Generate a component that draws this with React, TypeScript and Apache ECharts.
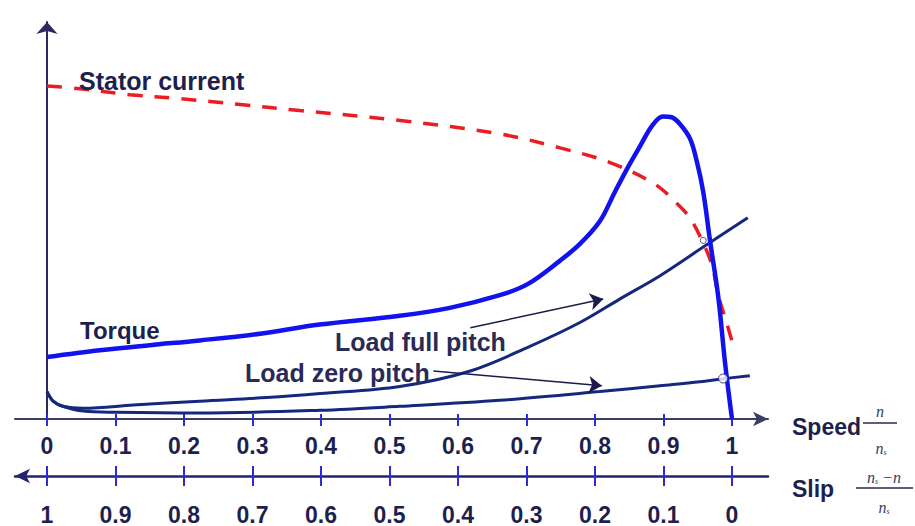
import React, { useEffect, useRef } from 'react';
import * as echarts from 'echarts';

// ---- axis ticks / labels ----
const speedTicks = [0, 0.1, 0.2, 0.3, 0.4, 0.5, 0.6, 0.7, 0.8, 0.9, 1];
const speedLabels = ['0', '0.1', '0.2', '0.3', '0.4', '0.5', '0.6', '0.7', '0.8', '0.9', '1'];
const slipLabels = ['1', '0.9', '0.8', '0.7', '0.6', '0.5', '0.4', '0.3', '0.2', '0.1', '0'];

// ---- curves (speed n/ns, relative value) ----
const statorSpeed = [0, 0.048, 0.121, 0.194, 0.282, 0.369, 0.515, 0.661, 0.749, 0.822, 0.887, 0.92, 0.939, 0.958, 0.971, 0.98, 0.993, 1.004];
const statorValue = [83.9, 83.2, 81.7, 80.7, 79.2, 77.7, 75.2, 71.8, 68.3, 64.6, 59.2, 54.2, 50.5, 44.3, 38.6, 31.2, 23.8, 17.1];

const torqueSpeed = [0, 0.077, 0.15, 0.223, 0.311, 0.398, 0.515, 0.588, 0.661, 0.701, 0.749, 0.778, 0.807, 0.829, 0.848, 0.866, 0.883, 0.899, 0.912, 0.924, 0.939, 0.949, 0.958, 0.968, 0.98, 0.99, 1];
const torqueValue = [15.6, 17.3, 18.6, 19.8, 21.5, 23.8, 26.0, 28.0, 31.2, 33.9, 39.9, 44.1, 49.8, 57.2, 63.4, 68.8, 73.8, 76.2, 76.0, 74.3, 70.5, 64.6, 57.2, 44.8, 30.7, 13.9, 0];

const fullPitchSpeed = [0, 0.009, 0.023, 0.053, 0.126, 0.223, 0.321, 0.399, 0.515, 0.618, 0.705, 0.778, 0.836, 0.895, 0.958, 1.023];
const fullPitchValue = [6.9, 4.5, 3.2, 2.7, 3.5, 4.5, 5.4, 6.4, 8.2, 12.1, 18.3, 24.3, 30.2, 36.1, 43.3, 50.7];

const zeroPitchSpeed = [0, 0.009, 0.023, 0.053, 0.102, 0.223, 0.399, 0.515, 0.661, 0.807, 0.895, 0.953, 0.985, 1.026];
const zeroPitchValue = [6.9, 4.5, 3.2, 2.0, 1.7, 1.5, 2.2, 3.2, 4.7, 6.9, 8.4, 9.4, 10.1, 10.9];

const operatingSpeed = [0.958, 0.987];
const operatingValue = [45.0, 10.2];
const operatingSize = [6, 9];

// annotation arrows [start, end] in (speed, value)
const fullPitchArrow = [[0.618, 23.0], [0.812, 30.2]];
const zeroPitchArrow = [[0.564, 12.1], [0.81, 8.4]];

const zip = (xs: number[], ys: number[]) => xs.map((x, i) => [x, ys[i]]);

const X_MIN = -0.04672;
const X_MAX = 1.05255;

const NAVY = '#1f1f4f';
const TICK_BLUE = '#2a2ade';
const FONT = '"Liberation Sans", Arial, sans-serif';
const SERIF = '"Liberation Serif", "DejaVu Serif", serif';

export default function App() {
  const ref = useRef<HTMLDivElement>(null);
  useEffect(() => {
    if (!ref.current) return;
    const chart = echarts.init(ref.current, null, { renderer: 'svg' });

    const slipFormatter = (v: number) => {
      const i = speedTicks.findIndex((t) => Math.abs(t - v) < 1e-6);
      return i >= 0 ? slipLabels[i] : '';
    };
    const speedFormatter = (v: number) => {
      const i = speedTicks.findIndex((t) => Math.abs(t - v) < 1e-6);
      return i >= 0 ? speedLabels[i] : '';
    };

    const labelStyle = {
      color: NAVY,
      fontSize: 23,
      fontWeight: 'bold' as const,
      fontFamily: FONT,
    };

    const lineBase = { type: 'line', smooth: 0.35, showSymbol: false, xAxisIndex: 0 };

    const option: any = {
      animation: false,
      backgroundColor: '#ffffff',
      grid: { left: 15, top: 22, width: 753, height: 404, containLabel: false },
      xAxis: [
        {
          type: 'value',
          position: 'bottom',
          min: X_MIN,
          max: X_MAX,
          axisLine: {
            show: true,
            onZero: true,
            symbol: ['none', 'arrow'],
            symbolSize: [11, 15],
            lineStyle: { color: '#3c3c66', width: 2 },
          },
          axisTick: {
            show: true,
            customValues: speedTicks,
            inside: false,
            length: 7,
            lineStyle: { color: TICK_BLUE, width: 2 },
          },
          axisLabel: {
            show: true,
            customValues: speedTicks,
            margin: 15,
            formatter: speedFormatter,
            ...labelStyle,
          },
          splitLine: { show: false },
        },
        {
          type: 'value',
          position: 'bottom',
          min: X_MIN,
          max: X_MAX,
          axisLine: { show: false, onZero: false },
          axisTick: {
            show: true,
            customValues: speedTicks,
            inside: true,
            length: 5,
            lineStyle: { color: TICK_BLUE, width: 2 },
          },
          axisLabel: { show: false },
          splitLine: { show: false },
        },
        {
          type: 'value',
          position: 'bottom',
          offset: 57,
          min: X_MIN,
          max: X_MAX,
          axisLine: {
            show: true,
            onZero: false,
            symbol: ['arrow', 'none'],
            symbolSize: [11, 15],
            lineStyle: { color: '#23236e', width: 2.5 },
          },
          axisTick: {
            show: true,
            customValues: speedTicks,
            inside: false,
            length: 10,
            lineStyle: { color: TICK_BLUE, width: 2 },
          },
          axisLabel: {
            show: true,
            customValues: speedTicks,
            margin: 27,
            formatter: slipFormatter,
            ...labelStyle,
          },
          splitLine: { show: false },
        },
        {
          type: 'value',
          position: 'bottom',
          offset: 57,
          min: X_MIN,
          max: X_MAX,
          axisLine: { show: false, onZero: false },
          axisTick: {
            show: true,
            customValues: speedTicks,
            inside: true,
            length: 10,
            lineStyle: { color: TICK_BLUE, width: 2 },
          },
          axisLabel: { show: false },
          splitLine: { show: false },
        },
      ],
      yAxis: {
        type: 'value',
        min: 0,
        max: 100,
        axisLine: {
          show: true,
          onZero: true,
          onZeroAxisIndex: 0,
          symbol: ['none', 'arrow'],
          symbolSize: [16, 12],
          lineStyle: { color: '#2a2a60', width: 2 },
        },
        axisTick: { show: false },
        axisLabel: { show: false },
        splitLine: { show: false },
      },
      series: [
        {
          ...lineBase,
          name: 'Stator current',
          data: zip(statorSpeed, statorValue),
          lineStyle: { color: '#ec1c24', width: 3.5, type: [15, 12] },
          z: 2,
        },
        {
          ...lineBase,
          name: 'Load full pitch',
          data: zip(fullPitchSpeed, fullPitchValue),
          lineStyle: { color: '#16287e', width: 3 },
          z: 3,
          markLine: {
            silent: true,
            symbol: ['none', 'arrow'],
            symbolSize: 13,
            label: { show: false },
            lineStyle: { color: '#1b1b4b', width: 1.5, type: 'solid' },
            data: [[{ coord: fullPitchArrow[0] }, { coord: fullPitchArrow[1] }]],
          },
        },
        {
          ...lineBase,
          name: 'Load zero pitch',
          data: zip(zeroPitchSpeed, zeroPitchValue),
          lineStyle: { color: '#16287e', width: 3 },
          z: 3,
          markLine: {
            silent: true,
            symbol: ['none', 'arrow'],
            symbolSize: 13,
            label: { show: false },
            lineStyle: { color: '#1b1b4b', width: 1.5, type: 'solid' },
            data: [[{ coord: zeroPitchArrow[0] }, { coord: zeroPitchArrow[1] }]],
          },
        },
        {
          ...lineBase,
          name: 'Torque',
          data: zip(torqueSpeed, torqueValue),
          lineStyle: { color: '#1212ee', width: 4.5 },
          z: 4,
        },
        {
          name: 'Operating point',
          type: 'scatter',
          data: operatingSpeed.map((s, i) => ({
            value: [s, operatingValue[i]],
            symbolSize: operatingSize[i],
          })),
          itemStyle: { color: '#ffffff', borderColor: '#1b1b4b', borderWidth: 1 },
          z: 5,
        },
      ],
      graphic: [
        {
          type: 'text',
          x: 79,
          y: 81,
          style: { text: 'Stator current', font: `bold 25px ${FONT}`, fill: NAVY, verticalAlign: 'middle' },
          z: 10,
        },
        {
          type: 'text',
          x: 80,
          y: 330,
          style: { text: 'Torque', font: `bold 24px ${FONT}`, fill: NAVY, verticalAlign: 'middle' },
          z: 10,
        },
        {
          type: 'text',
          x: 335,
          y: 342,
          style: { text: 'Load full pitch', font: `bold 25px ${FONT}`, fill: '#2a2a58', verticalAlign: 'middle' },
          z: 10,
        },
        {
          type: 'text',
          x: 245,
          y: 373,
          style: { text: 'Load zero pitch', font: `bold 25px ${FONT}`, fill: '#2a2a58', verticalAlign: 'middle' },
          z: 10,
        },
        {
          type: 'text',
          x: 792,
          y: 427,
          style: { text: 'Speed', font: `bold 23px ${FONT}`, fill: NAVY, verticalAlign: 'middle' },
          z: 10,
        },
        {
          type: 'text',
          x: 792,
          y: 489,
          style: { text: 'Slip', font: `bold 23px ${FONT}`, fill: NAVY, verticalAlign: 'middle' },
          z: 10,
        },
        // speed fraction n / ns
        {
          type: 'text',
          x: 880,
          y: 411,
          style: { text: 'n', font: `italic 16px ${SERIF}`, fill: '#3a3a5c', align: 'center', verticalAlign: 'middle' },
        },
        {
          type: 'line',
          shape: { x1: 863, y1: 423, x2: 897, y2: 423 },
          style: { stroke: '#2a2a50', lineWidth: 1.5 },
        },
        {
          type: 'text',
          x: 881,
          y: 448,
          style: {
            text: '{n|n}{s|s}',
            align: 'center',
            verticalAlign: 'middle',
            rich: {
              n: { font: `italic 16px ${SERIF}`, fill: '#3a3a5c' },
              s: { font: `italic 8px ${SERIF}`, fill: '#3a3a5c', verticalAlign: 'bottom' },
            },
          },
        },
        // slip fraction (ns - n) / ns
        {
          type: 'text',
          x: 884,
          y: 477,
          style: {
            text: '{n|n}{s|s}{n| \u2212n}',
            align: 'center',
            verticalAlign: 'middle',
            rich: {
              n: { font: `italic 16px ${SERIF}`, fill: '#3a3a5c' },
              s: { font: `italic 8px ${SERIF}`, fill: '#3a3a5c', verticalAlign: 'bottom' },
            },
          },
        },
        {
          type: 'line',
          shape: { x1: 856, y1: 488, x2: 913, y2: 488 },
          style: { stroke: '#2a2a50', lineWidth: 1.5 },
        },
        {
          type: 'text',
          x: 884,
          y: 507,
          style: {
            text: '{n|n}{s|s}',
            align: 'center',
            verticalAlign: 'middle',
            rich: {
              n: { font: `italic 16px ${SERIF}`, fill: '#3a3a5c' },
              s: { font: `italic 8px ${SERIF}`, fill: '#3a3a5c', verticalAlign: 'bottom' },
            },
          },
        },
      ],
    };

    chart.setOption(option);
    return () => chart.dispose();
  }, []);

  return (
    <div
      ref={ref}
      style={{ position: 'fixed', left: 0, top: 0, width: 915, height: 526, background: '#ffffff' }}
    />
  );
}
